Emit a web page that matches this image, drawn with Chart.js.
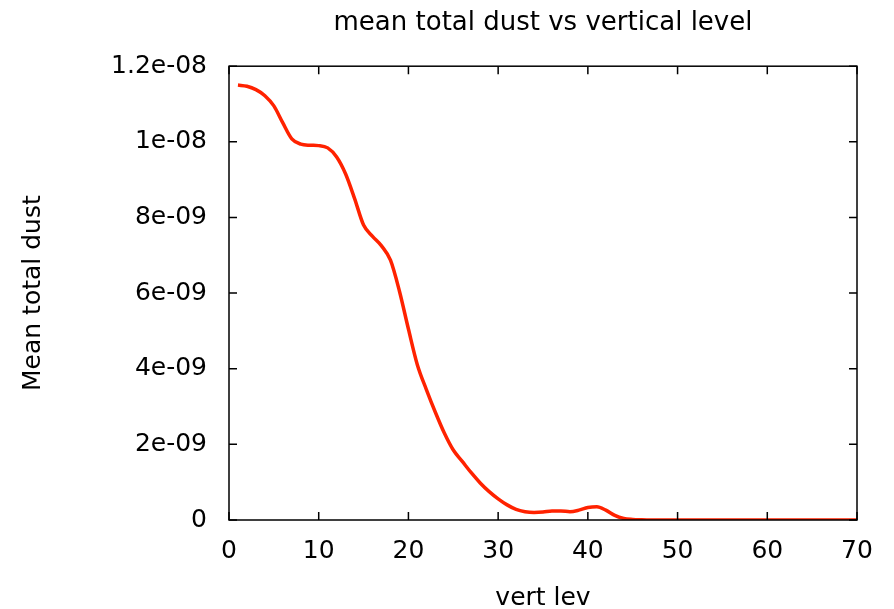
<!DOCTYPE html>
<html>
<head>
<meta charset="utf-8">
<script src="https://cdn.jsdelivr.net/npm/chart.js@4.4.1/dist/chart.umd.min.js"></script>
<style>
  html, body { margin: 0; padding: 0; background: #fff; }
</style>
</head>
<body>
<canvas id="dustChart" width="894" height="609"></canvas>
<script>
// data
const levels = [];
for (let i = 1; i <= 70; i++) levels.push(i);
const meanDust = [
  11.5e-9, 11.47e-9, 11.38e-9, 11.22e-9, 10.95e-9, 10.5e-9, 10.08e-9, 9.94e-9, 9.91e-9, 9.9e-9,
  9.84e-9, 9.6e-9, 9.15e-9, 8.5e-9, 7.8e-9, 7.5e-9, 7.25e-9, 6.87e-9, 6.05e-9, 5.05e-9,
  4.1e-9, 3.45e-9, 2.85e-9, 2.3e-9, 1.85e-9, 1.55e-9, 1.25e-9, 0.98e-9, 0.75e-9, 0.56e-9,
  0.4e-9, 0.28e-9, 0.22e-9, 0.2e-9, 0.21e-9, 0.24e-9, 0.24e-9, 0.22e-9, 0.26e-9, 0.33e-9,
  0.35e-9, 0.26e-9, 0.12e-9, 0.04e-9, 0.015e-9, 0.005e-9, 0, 0, 0, 0,
  0, 0, 0, 0, 0, 0, 0, 0, 0, 0,
  0, 0, 0, 0, 0, 0, 0, 0, 0, 0
];
const xTickLabels = ['0', '10', '20', '30', '40', '50', '60', '70'];
const yTickLabels = ['0', '2e-09', '4e-09', '6e-09', '8e-09', '1e-08', '1.2e-08'];

const fontFamily = '"DejaVu Sans", sans-serif';

// gnuplot style box with inward ticks on all four sides
const framePlugin = {
  id: 'frame',
  afterDraw(chart) {
    const ctx = chart.ctx;
    const a = chart.chartArea;
    const xs = chart.scales.x, ys = chart.scales.y;
    const len = 8;
    ctx.save();
    ctx.strokeStyle = '#000';
    ctx.lineWidth = 1.5;
    ctx.strokeRect(a.left, a.top, a.right - a.left, a.bottom - a.top);
    ctx.beginPath();
    xs.ticks.forEach(t => {
      const px = xs.getPixelForValue(t.value);
      ctx.moveTo(px, a.bottom); ctx.lineTo(px, a.bottom - len);
      ctx.moveTo(px, a.top); ctx.lineTo(px, a.top + len);
    });
    ys.ticks.forEach(t => {
      const py = ys.getPixelForValue(t.value);
      ctx.moveTo(a.left, py); ctx.lineTo(a.left + len, py);
      ctx.moveTo(a.right, py); ctx.lineTo(a.right - len, py);
    });
    ctx.stroke();
    ctx.restore();
  }
};

const config = {
  type: 'line',
  data: {
    labels: levels,
    datasets: [{
      label: 'mean total dust',
      data: levels.map((lv, i) => ({ x: lv, y: meanDust[i] })),
      borderColor: '#ff2200',
      borderWidth: 3.5,
      pointRadius: 0,
      cubicInterpolationMode: 'monotone',
      fill: false
    }]
  },
  options: {
    responsive: false,
    animation: false,
    layout: { padding: { left: 0, right: 37, top: 0, bottom: 0 } },
    plugins: {
      legend: { display: false },
      tooltip: { enabled: false },
      title: {
        display: true,
        fullSize: false,
        text: 'mean total dust vs vertical level',
        color: '#000',
        font: { family: fontFamily, size: 26, weight: 'normal' },
        padding: { top: 8, bottom: 27 }
      }
    },
    scales: {
      x: {
        type: 'linear',
        min: 0,
        max: 70,
        grid: { display: false },
        border: { display: false },
        ticks: {
          stepSize: 10,
          padding: 8,
          color: '#000',
          font: { family: fontFamily, size: 25 },
          maxRotation: 0,
          callback: (v, i) => xTickLabels[i]
        },
        title: {
          display: true,
          text: 'vert lev',
          color: '#000',
          font: { family: fontFamily, size: 25 },
          padding: { top: 0, bottom: -4 }
        },
        afterFit(scale) { scale.height = 89; }
      },
      y: {
        min: 0,
        max: 1.2e-8,
        grid: { display: false },
        border: { display: false },
        ticks: {
          stepSize: 2e-9,
          padding: 14,
          color: '#000',
          font: { family: fontFamily, size: 25 },
          callback: (v, i) => yTickLabels[i]
        },
        title: {
          display: true,
          text: 'Mean total dust',
          color: '#000',
          font: { family: fontFamily, size: 25 },
          padding: { top: 18, bottom: 0 }
        },
        afterFit(scale) { scale.width = 229; }
      }
    }
  },
  plugins: [framePlugin]
};

const ctx = document.getElementById('dustChart').getContext('2d');
const dustChart = new Chart(ctx, config);
</script>
</body>
</html>
